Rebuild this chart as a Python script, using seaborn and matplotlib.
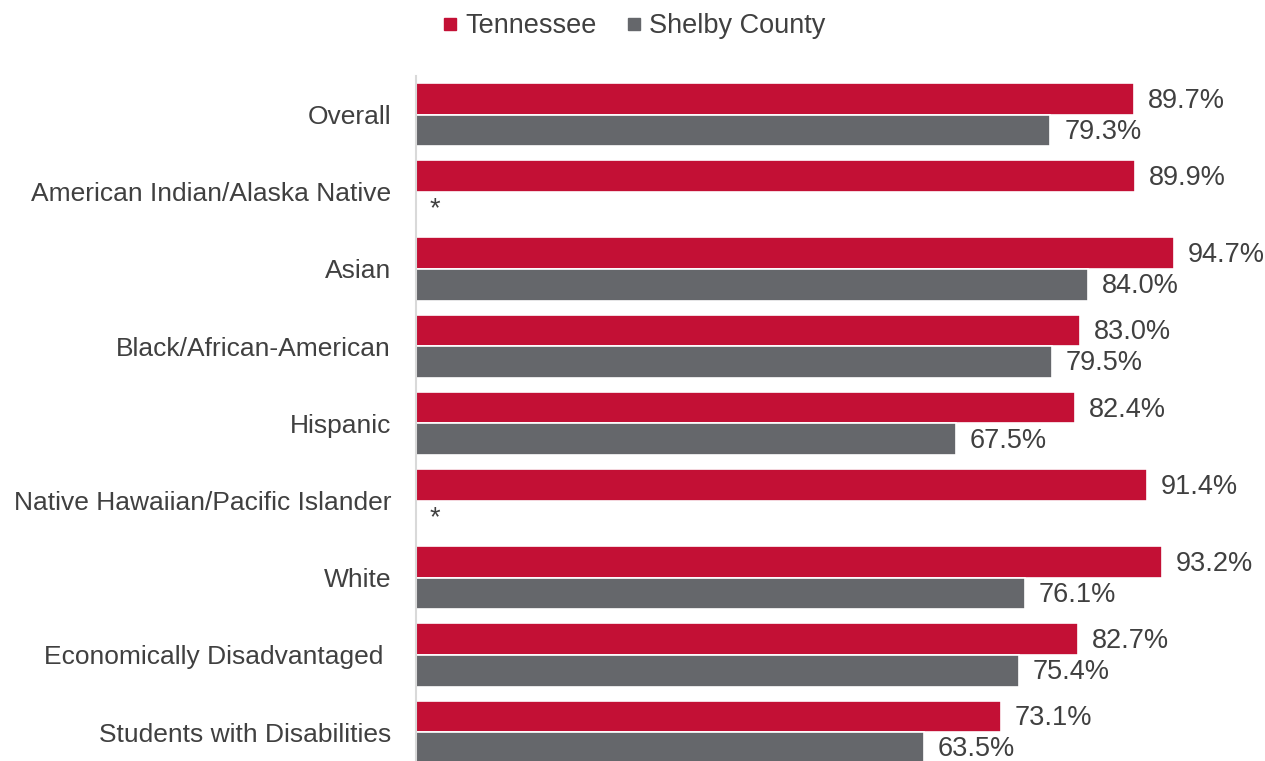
import numpy as np
import pandas as pd
import matplotlib
matplotlib.use("Agg")
import matplotlib.pyplot as plt
from matplotlib.lines import Line2D
import seaborn as sns

categories = [
    "Overall",
    "American Indian/Alaska Native",
    "Asian",
    "Black/African-American",
    "Hispanic",
    "Native Hawaiian/Pacific Islander",
    "White",
    "Economically Disadvantaged ",
    "Students with Disabilities",
]
tennessee = [89.7, 89.9, 94.7, 83.0, 82.4, 91.4, 93.2, 82.7, 73.1]
shelby = [79.3, np.nan, 84.0, 79.5, 67.5, np.nan, 76.1, 75.4, 63.5]
series_names = ["Tennessee", "Shelby County"]

RED = "#C31035"
GRAY = "#65676B"
TEXT = "#404040"
FS = 19.5

df = pd.DataFrame({
    "group": categories * 2,
    "value": tennessee + shelby,
    "series": [series_names[0]] * len(categories) + [series_names[1]] * len(categories),
})

sns.set_theme(style="white")
plt.rcParams["font.family"] = ["Liberation Sans", "DejaVu Sans"]

fig = plt.figure(figsize=(12.65, 7.61), dpi=100)
ax = fig.add_axes([416 / 1265, 1 - 76 / 761 - 694.8 / 761, 800 / 1265, 694.8 / 761])

sns.barplot(
    data=df, y="group", x="value", hue="series",
    order=categories, hue_order=series_names,
    palette=[RED, GRAY], saturation=1, orient="h", width=0.82,
    edgecolor="white", linewidth=1.2, legend=False, ax=ax,
)

ax.set_xlim(0, 100)
ax.set_ylim(len(categories) - 0.5, -0.5)
ax.set_xlabel("")
ax.set_ylabel("")
ax.set_xticks([])
ax.tick_params(axis="y", length=0, pad=18, labelsize=19, labelcolor=TEXT)
for s in ["top", "right", "bottom"]:
    ax.spines[s].set_visible(False)
ax.spines["left"].set_color("#D9D9D9")
ax.spines["left"].set_linewidth(1.5)
ax.grid(False)

# value labels, "*" where the county figure is suppressed
offset = 0.205
for i, (t, s) in enumerate(zip(tennessee, shelby)):
    ax.annotate(f"{t:.1f}%", (t, i - offset), xytext=(10, -1.5), textcoords="offset points",
                va="center", ha="left", fontsize=FS, color=TEXT)
    if np.isnan(s):
        ax.annotate("*", (0, i + offset), xytext=(10, -1), textcoords="offset points",
                    va="center", ha="left", fontsize=FS, color=TEXT)
    else:
        ax.annotate(f"{s:.1f}%", (s, i + offset), xytext=(10, -1), textcoords="offset points",
                    va="center", ha="left", fontsize=FS, color=TEXT)

handles = [Line2D([], [], marker="s", linestyle="", markersize=8, color=c) for c in [RED, GRAY]]
fig.legend(handles, series_names, loc="center", bbox_to_anchor=(0.5, 1 - 26 / 761),
           ncol=2, frameon=False, fontsize=FS, labelcolor=TEXT,
           handletextpad=0.15, columnspacing=1.0, handlelength=0.8)

fig.savefig("out.png", dpi=100)
